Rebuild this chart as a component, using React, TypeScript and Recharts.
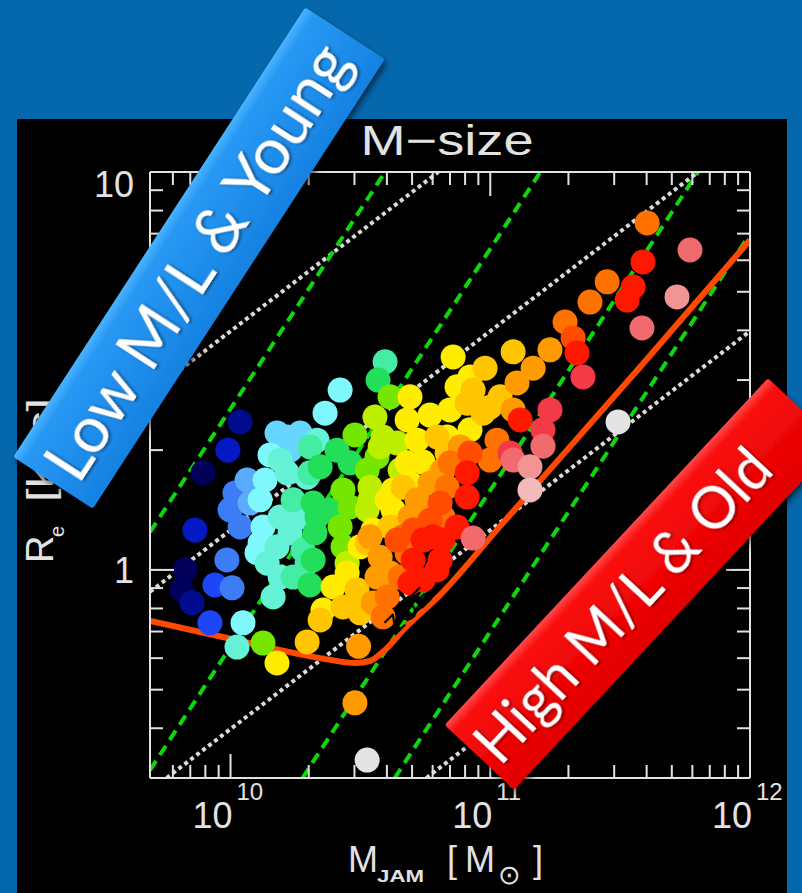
import React from 'react';
import { ComposedChart, XAxis, YAxis, Scatter, Line, ReferenceLine } from 'recharts';

type P = [number, number];

// ---- axis data (physical units) ----
const massTicks = [6e9, 7e9, 8e9, 9e9, 1e10, 2e10, 3e10, 4e10, 5e10, 6e10, 7e10, 8e10, 9e10, 1e11,
  2e11, 3e11, 4e11, 5e11, 6e11, 7e11, 8e11, 9e11, 1e12];
const sizeTicks = [0.3, 0.4, 0.5, 0.6, 0.7, 0.8, 0.9, 1, 2, 3, 4, 5, 6, 7, 8, 9, 10];
const massDomain: P = [9.69, 12.0]; // log10 M_JAM [Msun]
const sizeDomain: P = [-0.523, 1.0]; // log10 R_e [kpc]

// ---- galaxies: [log10 M_JAM, log10 R_e], grouped by M/L colour bin ----
const darkNavy: P[] = [[9.894, 0.244], [9.825, 0.0], [9.813, -0.05]];
const navy: P[] = [[10.037, 0.372], [9.852, -0.083]];
const deepBlue: P[] = [[9.99, 0.301], [9.863, 0.1]];
const blue: P[] = [[9.94, -0.038], [9.921, -0.133]];
const blueMid: P[] = [[9.986, 0.025], [10.006, -0.045], [10.017, 0.193], [9.998, 0.151], [10.037, 0.108]];
const skyBlue: P[] = [[10.064, 0.226], [10.075, 0.168]];
const lightSky: P[] = [[10.218, 0.334], [10.268, 0.344], [10.229, 0.301], [10.179, 0.344]];
const cyan: P[] = [[10.133, 0.226], [10.125, 0.108], [10.102, 0.043], [10.048, -0.133], [10.364, 0.394],
  [10.422, 0.452], [10.152, 0.289], [10.114, 0.068], [10.114, 0.176]];
const aqua: P[] = [[10.333, 0.326], [10.218, 0.244], [10.295, 0.233], [10.191, 0.133], [10.229, 0.093],
  [10.179, 0.058], [10.141, 0.017], [10.191, -0.018], [10.164, -0.068], [10.025, -0.194], [10.268, 0.133],
  [10.191, 0.276]];
const aquaGreen: P[] = [[10.241, 0.176], [10.279, 0.05], [10.595, 0.523], [10.306, 0.309], [10.306, 0.244],
  [10.295, 0.017], [10.241, -0.018]];
const green: P[] = [[10.318, 0.168], [10.325, 0.093], [10.318, 0.025], [10.306, -0.038], [10.568, 0.477],
  [10.41, 0.301], [10.46, 0.269], [10.345, 0.259], [10.333, 0.133], [10.383, 0.151]];
const lime: P[] = [[10.125, -0.184], [10.614, 0.435], [10.526, 0.251], [10.564, 0.284], [10.433, 0.201],
  [10.46, 0.158], [10.422, 0.108], [10.433, 0.058], [10.479, 0.339]];
const yellowGreen: P[] = [[10.556, 0.384], [10.641, 0.319], [10.587, 0.334], [10.653, 0.251], [10.537, 0.208],
  [10.526, 0.151], [10.449, 0.017], [10.576, 0.309], [10.537, 0.176]];
const yellow: P[] = [[10.179, -0.234], [10.691, 0.435], [10.68, 0.377], [10.718, 0.326], [10.691, 0.218],
  [10.626, 0.201], [10.626, 0.151], [10.549, 0.1], [10.395, -0.043], [10.356, -0.101], [10.857, 0.535],
  [10.872, 0.46], [10.845, 0.402], [10.834, 0.334], [10.922, 0.352], [10.741, 0.271], [10.768, 0.389],
  [10.922, 0.485], [10.68, 0.269], [10.603, 0.176], [10.499, 0.058], [10.449, -0.008]];
const gold: P[] = [[10.295, -0.181], [10.911, 0.419], [10.795, 0.334], [10.834, 0.294], [10.433, -0.093],
  [10.487, -0.05], [10.499, -0.108], [10.345, -0.126], [10.614, 0.108], [11.088, 0.548], [10.934, 0.452],
  [10.972, 0.394], [11.038, 0.435], [10.526, 0.068], [10.98, 0.507], [10.999, 0.409], [10.807, 0.244],
  [10.664, 0.208]];
const orange: P[] = [[10.818, 0.251], [10.884, 0.309], [10.718, 0.176], [10.691, 0.133], [10.741, 0.133],
  [10.564, -0.018], [10.576, 0.032], [10.537, 0.083], [10.479, -0.334], [11.165, 0.507], [11.23, 0.553],
  [11.088, 0.402], [10.493, -0.192], [11.103, 0.47], [10.768, 0.218], [10.614, -0.008], [10.549, -0.083]];
const darkOrange: P[] = [[10.664, 0.083], [10.603, -0.068], [10.653, -0.018], [10.587, -0.118], [11.288, 0.623],
  [11.026, 0.326], [10.999, 0.276], [10.845, 0.269], [10.834, 0.208], [11.604, 0.872], [11.45, 0.724],
  [11.384, 0.673], [10.68, 0.042], [10.818, 0.133]];
const orangeRed: P[] = [[10.922, 0.294], [10.807, 0.168], [10.768, 0.125], [10.641, 0.075], [10.703, 0.1],
  [11.319, 0.583]];
const red: P[] = [[10.911, 0.244], [10.911, 0.183], [10.78, 0.083], [10.872, 0.108], [10.703, 0.025],
  [10.741, 0.075], [10.795, 0.0], [10.691, -0.033], [11.334, 0.545], [11.115, 0.377], [11.588, 0.774],
  [11.55, 0.711], [11.527, 0.678], [10.818, 0.075], [10.807, 0.025], [10.741, -0.025]];
const redPink: P[] = [[11.357, 0.485], [11.23, 0.402], [11.203, 0.352], [11.076, 0.294]];
const pink: P[] = [[10.934, 0.08], [11.203, 0.311], [11.088, 0.276], [11.769, 0.804], [11.584, 0.608]];
const lightPink: P[] = [[11.153, 0.259], [11.719, 0.686]];
const palePink: P[] = [[11.153, 0.201]];
const white: P[] = [[11.492, 0.372], [10.526, -0.478]];

// ---- reference lines ----
// constant sigma (green dashed), endpoints [log M, log R]
const sigmaLines: P[][] = [
  [[9.69, 0.095], [10.595, 1.0]],
  [[9.69, -0.503], [11.193, 1.0]],
  [[10.277, -0.523], [11.8, 1.0]],
  [[10.632, -0.523], [12.0, 0.845]],
];
// constant surface density (white dotted)
const densityLines: P[][] = [
  [[9.69, 0.445], [10.8, 1.0]],
  [[9.69, -0.055], [11.8, 1.0]],
  [[9.754, -0.523], [12.0, 0.6]],
  [[10.754, -0.523], [12.0, 0.1]],
];
// zone of exclusion boundary (orange-red)
const zoeLine: P[] = [[9.69, -0.128], [9.883, -0.156], [10.075, -0.184], [10.268, -0.212], [10.383, -0.226],
  [10.479, -0.234], [10.537, -0.229], [10.595, -0.201], [10.672, -0.146], [10.807, -0.063], [11.038, 0.11],
  [11.577, 0.51], [12.0, 0.829]];

const groups: { pts: P[]; color: string }[] = [
  { pts: darkNavy, color: '#00005a' },
  { pts: navy, color: '#000c8e' },
  { pts: deepBlue, color: '#0418c4' },
  { pts: blue, color: '#1c46f6' },
  { pts: blueMid, color: '#3c7cf4' },
  { pts: skyBlue, color: '#5aaafe' },
  { pts: lightSky, color: '#66d6ff' },
  { pts: cyan, color: '#7ef8fc' },
  { pts: aqua, color: '#66f2d6' },
  { pts: aquaGreen, color: '#44eca4' },
  { pts: green, color: '#22de58' },
  { pts: lime, color: '#74e600' },
  { pts: yellowGreen, color: '#bcee00' },
  { pts: yellow, color: '#ffec00' },
  { pts: gold, color: '#ffc600' },
  { pts: orange, color: '#ff9a00' },
  { pts: darkOrange, color: '#ff7200' },
  { pts: orangeRed, color: '#ff4c00' },
  { pts: red, color: '#ff1800' },
  { pts: redPink, color: '#f43a46' },
  { pts: pink, color: '#f06a6e' },
  { pts: lightPink, color: '#f29494' },
  { pts: palePink, color: '#f2baba' },
  { pts: white, color: '#e4e4e4' },
];

const AXIS = '#e2e2e2';
const FONT = '"Liberation Sans", Arial, sans-serif';
const toObj = (p: P) => ({ lm: p[0], lr: p[1] });

const isMajor = (v: number) => Math.abs(v - Math.round(v)) < 1e-6;

const makeTick = (side: 'bottom' | 'top' | 'left' | 'right') => (props: any) => {
  const { x, y, payload } = props;
  const v: number = payload.value;
  const major = isMajor(v);
  const len = major ? 24 : 13;
  let x2 = x, y2 = y;
  if (side === 'bottom') y2 = y - len;
  if (side === 'top') y2 = y + len;
  if (side === 'left') x2 = x + len;
  if (side === 'right') x2 = x - len;
  let label: React.ReactNode = null;
  if (major && side === 'bottom') {
    label = (
      <g fill={AXIS} fontFamily={FONT}>
        <text x={x - 18} y={y + 50} textAnchor="middle" fontSize={36}>10</text>
        <text x={x + 6} y={y + 22} textAnchor="start" fontSize={24}>{Math.round(v)}</text>
      </g>
    );
  }
  if (major && side === 'left') {
    const val = Math.round(Math.pow(10, v));
    label = (
      <text x={x - 16} y={y + (val === 10 ? 12 : 1)} textAnchor="end" dominantBaseline="central"
        fontSize={36} fill={AXIS} fontFamily={FONT}>{val}</text>
    );
  }
  return (
    <g>
      <line x1={x} y1={y} x2={x2} y2={y2} stroke={AXIS} strokeWidth={2} />
      {label}
    </g>
  );
};

const dot = (color: string) => (p: any) => <circle cx={p.cx} cy={p.cy} r={12.5} fill={color} />;

export default function App() {
  const mTicks = massTicks.map((t) => Math.log10(t));
  const rTicks = sizeTicks.map((t) => Math.log10(t));
  const zoe = zoeLine.map(toObj);
  const axisLine = { stroke: AXIS, strokeWidth: 2 };
  return (
    <div style={{ position: 'absolute', left: 0, top: 0, width: 802, height: 893, background: '#0568ad', overflow: 'hidden' }}>
      <div style={{ position: 'absolute', left: 17, top: 119, width: 770, height: 774, background: '#000', overflow: 'hidden' }}>
        <ComposedChart width={770} height={774} margin={{ top: 52, right: 36, bottom: 114, left: 132 }}>
          <XAxis xAxisId={0} type="number" dataKey="lm" domain={massDomain} allowDataOverflow ticks={mTicks}
            interval={0} height={1} tickSize={0} tickMargin={0} tickLine={false} axisLine={axisLine}
            tick={makeTick('bottom')} orientation="bottom" />
          <XAxis xAxisId="top" type="number" dataKey="lm" domain={massDomain} allowDataOverflow ticks={mTicks}
            interval={0} height={1} tickSize={0} tickMargin={0} tickLine={false} axisLine={axisLine}
            tick={makeTick('top')} orientation="top" />
          <YAxis yAxisId={0} type="number" dataKey="lr" domain={sizeDomain} allowDataOverflow ticks={rTicks}
            interval={0} width={1} tickSize={0} tickMargin={0} tickLine={false} axisLine={axisLine}
            tick={makeTick('left')} orientation="left" />
          <YAxis yAxisId="right" type="number" dataKey="lr" domain={sizeDomain} allowDataOverflow ticks={rTicks}
            interval={0} width={1} tickSize={0} tickMargin={0} tickLine={false} axisLine={axisLine}
            tick={makeTick('right')} orientation="right" />
          {groups.map((g, i) => (
            <Scatter key={i} data={g.pts.map(toObj)} dataKey="lr" fill={g.color} shape={dot(g.color)}
              isAnimationActive={false} />
          ))}
          {densityLines.map((l, i) => (
            <ReferenceLine key={'d' + i} segment={[{ x: l[0][0], y: l[0][1] }, { x: l[1][0], y: l[1][1] }]}
              stroke="#dadada" strokeWidth={4} strokeDasharray="4 3.5" ifOverflow="hidden" />
          ))}
          {sigmaLines.map((l, i) => (
            <ReferenceLine key={'s' + i} segment={[{ x: l[0][0], y: l[0][1] }, { x: l[1][0], y: l[1][1] }]}
              stroke="#0cd80c" strokeWidth={4} strokeDasharray="11 7" ifOverflow="hidden" />
          ))}
          <Line data={zoe} dataKey="lr" type="monotone" stroke="#ff4800" strokeWidth={6} dot={false}
            activeDot={false} isAnimationActive={false} />
        </ComposedChart>
      </div>
      <svg width={802} height={893} style={{ position: 'absolute', left: 0, top: 0, pointerEvents: 'none' }}>
        <defs>
          <linearGradient id="blueG" x1="0" y1="0" x2="0" y2="1">
            <stop offset="0" stopColor="#4ab4ff" />
            <stop offset="0.12" stopColor="#2898f4" />
            <stop offset="1" stopColor="#1682e2" />
          </linearGradient>
          <linearGradient id="redG" x1="0" y1="0" x2="0" y2="1">
            <stop offset="0" stopColor="#ff4a4a" />
            <stop offset="0.12" stopColor="#fa0c0c" />
            <stop offset="1" stopColor="#e20000" />
          </linearGradient>
          <filter id="boxShadow" x="-20%" y="-20%" width="140%" height="140%">
            <feDropShadow dx="2" dy="4" stdDeviation="3" floodColor="#000" floodOpacity="0.6" />
          </filter>
          <filter id="txtShadow" x="-10%" y="-30%" width="120%" height="160%">
            <feDropShadow dx="1" dy="2" stdDeviation="1.5" floodColor="#000" floodOpacity="0.5" />
          </filter>
        </defs>
        {/* title and axis titles */}
        <text x={447} y={155} textAnchor="middle" fontSize={42} fill={AXIS} fontFamily={FONT}
          textLength={173} lengthAdjust="spacingAndGlyphs">M−size</text>
        <g fill={AXIS} fontFamily={FONT}>
          <text x={348} y={872} fontSize={36}>M</text>
          <text x={377} y={882} fontSize={17} fontWeight="bold" textLength={47} lengthAdjust="spacingAndGlyphs">JAM</text>
          <text x={447} y={872} fontSize={36}>[</text>
          <text x={465} y={872} fontSize={36}>M</text>
          <text x={498} y={884} fontSize={27}>⊙</text>
          <text x={533} y={872} fontSize={36}>]</text>
          <text transform="translate(53,563) rotate(-90)" fontSize={38}>R</text>
          <text transform="translate(64,537) rotate(-90)" fontSize={20}>e</text>
          <text transform="translate(53,502) rotate(-90)" fontSize={36} textLength={104}
            lengthAdjust="spacingAndGlyphs">[kpc]</text>
        </g>
        <text transform="translate(414,617) rotate(-45)" textAnchor="middle" fontSize={26} fill="#000"
          fontFamily={FONT}>ZOE</text>
        {/* Low M/L & Young */}
        <g filter="url(#boxShadow)">
          <g transform="translate(199,258) rotate(-57)">
            <rect x={-268} y={-47.5} width={536} height={95} rx={3} fill="url(#blueG)" />
          </g>
        </g>
        <g transform="translate(199,258) rotate(-57)" filter="url(#txtShadow)">
          <text x={-4} y={23} textAnchor="middle" fontSize={64} fill="#fff" fontFamily="Lato, 'Open Sans', sans-serif"
            textLength={505} lengthAdjust="spacingAndGlyphs">Low M/L &amp; Young</text>
        </g>
        {/* High M/L & Old */}
        <g filter="url(#boxShadow)">
          <g transform="translate(641,584) rotate(-47)">
            <rect x={-237} y={-47.5} width={474} height={95} rx={3} fill="url(#redG)" />
          </g>
        </g>
        <g transform="translate(641,584) rotate(-47)" filter="url(#txtShadow)">
          <text x={-28} y={22} textAnchor="middle" fontSize={60} fill="#fff" fontFamily="Lato, 'Open Sans', sans-serif"
            textLength={404} lengthAdjust="spacingAndGlyphs">High M/L &amp; Old</text>
        </g>
      </svg>
    </div>
  );
}
